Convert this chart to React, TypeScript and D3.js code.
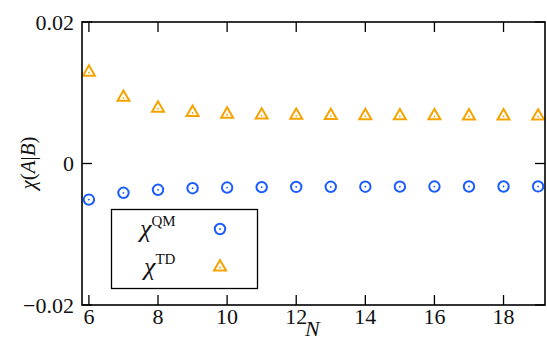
import React from "react";
import * as d3 from "d3";

const nValues = [6, 7, 8, 9, 10, 11, 12, 13, 14, 15, 16, 17, 18, 19];
const chiQM = [-0.0051, -0.00414, -0.00372, -0.00349, -0.0034, -0.00334, -0.00331, -0.00329, -0.00328, -0.00327, -0.00326, -0.00325, -0.00325, -0.00324];
const chiTD = [0.01305, 0.0095, 0.00796, 0.00735, 0.0071, 0.00699, 0.00694, 0.00691, 0.00689, 0.00688, 0.00687, 0.00686, 0.00686, 0.00685];
const xTicks = [6, 8, 10, 12, 14, 16, 18];
const yTicks = [-0.02, 0, 0.02];
const yTickLabels = ["\u22120.02", "0", "0.02"];

const W = 547;
const H = 340;
const left = 82;
const right = 545;
const top = 22;
const bottom = 305;
const blue = "#1a5cff";
const orange = "#f5a300";
const font = '"Liberation Serif", "DejaVu Serif", serif';

export default function App() {
  const x = d3.scaleLinear().domain([5.8, 19.2]).range([left, right]);
  const y = d3.scaleLinear().domain([-0.02, 0.02]).range([bottom, top]);
  const tri = d3.symbol().type(d3.symbolTriangle).size(62)();
  const tick = 10;

  const circleMarker = (cx: number, cy: number, key?: string) => (
    <g key={key} transform={`translate(${cx},${cy})`}>
      <circle r={5.2} fill="none" stroke={blue} strokeWidth={2} />
      <circle r={0.9} fill={blue} />
    </g>
  );
  const triMarker = (cx: number, cy: number, key?: string) => (
    <g key={key} transform={`translate(${cx},${cy + 1})`}>
      <path d={tri || ""} fill="none" stroke={orange} strokeWidth={2} strokeLinejoin="miter" />
      <circle r={0.9} cy={0.5} fill={orange} />
    </g>
  );

  return (
    <svg
      width={W}
      height={H}
      style={{ position: "absolute", left: 0, top: 0, background: "#fff", fontFamily: font }}
    >
      <rect x={0} y={0} width={W} height={H} fill="#fff" />

      {/* data markers */}
      {nValues.map((n, i) => triMarker(x(n), y(chiTD[i]), `t${i}`))}
      {nValues.map((n, i) => circleMarker(x(n), y(chiQM[i]), `c${i}`))}

      {/* ticks, pointing inward on all four sides */}
      {xTicks.map((t) => (
        <g key={`xt${t}`}>
          <line x1={x(t)} x2={x(t)} y1={bottom} y2={bottom - tick} stroke="#000" strokeWidth={1.3} />
          <line x1={x(t)} x2={x(t)} y1={top} y2={top + tick} stroke="#000" strokeWidth={1.3} />
          <text x={x(t)} y={324} fontSize={22} textAnchor="middle" fill="#111">
            {t}
          </text>
        </g>
      ))}
      {yTicks.map((t, i) => (
        <g key={`yt${i}`}>
          <line x1={left} x2={left + tick} y1={y(t)} y2={y(t)} stroke="#000" strokeWidth={1.3} />
          <line x1={right} x2={right - tick} y1={y(t)} y2={y(t)} stroke="#000" strokeWidth={1.3} />
          <text x={74} y={y(t)} dy="0.35em" fontSize={22} textAnchor="end" fill="#111">
            {yTickLabels[i]}
          </text>
        </g>
      ))}

      {/* frame */}
      <rect x={left} y={top} width={right - left} height={bottom - top} fill="none" stroke="#000" strokeWidth={1.6} />

      {/* axis labels */}
      <text x={305} y={336} fontSize={22} fontStyle="italic" fill="#111">N</text>
      <text transform="translate(35,163) rotate(-90)" fontSize={21} textAnchor="middle" fill="#111">
        <tspan fontStyle="italic">χ</tspan>(<tspan fontStyle="italic">A</tspan>|<tspan fontStyle="italic">B</tspan>)
      </text>

      {/* legend */}
      <rect x={111.5} y={209.5} width={146} height={79} fill="#fff" stroke="#000" strokeWidth={1.3} />
      <text x={140} y={237} fontSize={26} fill="#111">
        <tspan fontStyle="italic">χ</tspan>
        <tspan fontSize={15} dy={-11}>QM</tspan>
      </text>
      {circleMarker(220, 229)}
      <text x={144} y={275} fontSize={26} fill="#111">
        <tspan fontStyle="italic">χ</tspan>
        <tspan fontSize={15} dy={-11}>TD</tspan>
      </text>
      {triMarker(220, 266)}
    </svg>
  );
}
